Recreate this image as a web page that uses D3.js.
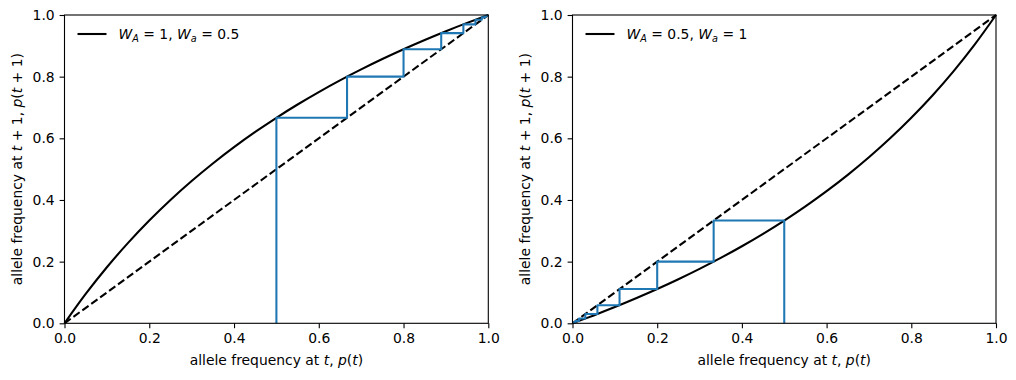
<!DOCTYPE html>
<html><head><meta charset="utf-8">
<script src="https://cdn.jsdelivr.net/npm/d3@7"></script>
<style>
body{margin:0;background:#fff;}
svg{font-family:"DejaVu Sans",sans-serif;}
.tick text{font-size:13.9px;fill:#000;}
</style></head>
<body><svg id="c" width="1016" height="380"></svg>
<script>
// grid of allele frequencies p(t)
const pGrid = [0,0.05,0.1,0.15,0.2,0.25,0.3,0.35,0.4,0.45,0.5,0.55,0.6,0.65,0.7,0.75,0.8,0.85,0.9,0.95,1];
// p(t+1) for W_A = 1, W_a = 0.5
const nextLeft = [0,0.0952,0.1818,0.2609,0.3333,0.4,0.4615,0.5185,0.5714,0.6207,0.6667,0.7097,0.75,0.7879,0.8235,0.8571,0.8889,0.9189,0.9474,0.9744,1];
// p(t+1) for W_A = 0.5, W_a = 1
const nextRight = [0,0.0256,0.0526,0.0811,0.1111,0.1429,0.1765,0.2121,0.25,0.2903,0.3333,0.3793,0.4286,0.4815,0.5385,0.6,0.6667,0.7391,0.8182,0.9048,1];
// successive generations (cobweb)
const cobLeft = [0.5,0.6667,0.8,0.8889,0.9412,0.9697,0.9846,0.9922,0.9961,0.9981,0.999];
const cobRight = [0.5,0.3333,0.2,0.1111,0.0588,0.0303,0.0154,0.0078,0.0039,0.002,0.001];
const ticks = [0,0.2,0.4,0.6,0.8,1.0];
const legendLeft = ["1","0.5"];
const legendRight = ["0.5","1"];

const svg = d3.select("#c");
const panels = [
  {x0:64.5, x1:488.3, next:nextLeft, cob:cobLeft, leg:legendLeft},
  {x0:572.5, x1:996, next:nextRight, cob:cobRight, leg:legendRight}
];
const yTop = 15, yBot = 323.3;
const LW = 2.08;

panels.forEach(P => {
  const x = d3.scaleLinear().domain([0,1]).range([P.x0,P.x1]);
  const y = d3.scaleLinear().domain([0,1]).range([yBot,yTop]);
  const g = svg.append("g");
  const clipId = "clip"+Math.round(P.x0);
  svg.append("clipPath").attr("id",clipId).append("rect")
    .attr("x",P.x0-1.5).attr("y",yTop-1.5).attr("width",P.x1-P.x0+3).attr("height",yBot-yTop+3);
  const plot = g.append("g").attr("clip-path",`url(#${clipId})`);
  const line = d3.line().x(d=>x(d[0])).y(d=>y(d[1]));
  // curve
  plot.append("path").datum(pGrid.map((p,i)=>[p,P.next[i]]))
    .attr("d", d3.line().x(d=>x(d[0])).y(d=>y(d[1])).curve(d3.curveCatmullRom.alpha(0.5)))
    .attr("fill","none").attr("stroke","#000").attr("stroke-width",LW);
  // diagonal
  plot.append("path").datum([[0,0],[1,1]])
    .attr("d", line)
    .attr("fill","none").attr("stroke","#000").attr("stroke-width",LW)
    .attr("stroke-dasharray","7.7,3.33");
  // cobweb
  const pts = [[P.cob[0],0]];
  for(let i=0;i<P.cob.length-1;i++){
    pts.push([P.cob[i],P.cob[i+1]]);
    pts.push([P.cob[i+1],P.cob[i+1]]);
  }
  plot.append("path").datum(pts)
    .attr("d", line)
    .attr("fill","none").attr("stroke","#1f77b4").attr("stroke-width",LW)
    .attr("stroke-linejoin","round");
  // axes
  const fmt = d3.format(".1f");
  const ax = g.append("g").attr("transform",`translate(0,${yBot})`)
    .call(d3.axisBottom(x).tickValues(ticks).tickFormat(fmt).tickSizeOuter(0).tickSize(4.9).tickPadding(4.9));
  const ay = g.append("g").attr("transform",`translate(${P.x0},0)`)
    .call(d3.axisLeft(y).tickValues(ticks).tickFormat(fmt).tickSizeOuter(0).tickSize(4.9).tickPadding(4.9));
  [ax,ay].forEach(a=>{a.select(".domain").remove(); a.selectAll("line").attr("stroke-width",1.1); a.selectAll("text").style("font-family","DejaVu Sans");});
  // frame
  g.append("rect").attr("x",P.x0).attr("y",yTop).attr("width",P.x1-P.x0).attr("height",yBot-yTop)
    .attr("fill","none").attr("stroke","#000").attr("stroke-width",1.1);
  // x label
  const xl = g.append("text").attr("x",(P.x0+P.x1)/2).attr("y",365).attr("text-anchor","middle")
    .attr("font-size","13.9px");
  xl.append("tspan").text("allele frequency at ");
  xl.append("tspan").attr("font-style","italic").text("t");
  xl.append("tspan").text(", ");
  xl.append("tspan").attr("font-style","italic").text("p");
  xl.append("tspan").text("(");
  xl.append("tspan").attr("font-style","italic").text("t");
  xl.append("tspan").text(")");
  // y label
  const yl = g.append("text").attr("transform",`translate(${P.x0-42.5},${(yTop+yBot)/2}) rotate(-90)`)
    .attr("text-anchor","middle").attr("font-size","13.9px");
  yl.append("tspan").text("allele frequency at ");
  yl.append("tspan").attr("font-style","italic").text("t");
  yl.append("tspan").text(" + 1, ");
  yl.append("tspan").attr("font-style","italic").text("p");
  yl.append("tspan").text("(");
  yl.append("tspan").attr("font-style","italic").text("t");
  yl.append("tspan").text(" + 1)");
  // legend
  const lx = P.x0 + 13, ly = 34;
  g.append("line").attr("x1",lx).attr("x2",lx+29).attr("y1",ly).attr("y2",ly)
    .attr("stroke","#000").attr("stroke-width",LW);
  const lt = g.append("text").attr("x",lx+41).attr("y",ly+5).attr("font-size","13.9px");
  lt.append("tspan").attr("font-style","italic").text("W");
  lt.append("tspan").attr("font-style","italic").attr("font-size","9.7px").attr("dy",2.5).text("A");
  lt.append("tspan").attr("dy",-2.5).text(" = "+P.leg[0]+", ");
  lt.append("tspan").attr("font-style","italic").text("W");
  lt.append("tspan").attr("font-style","italic").attr("font-size","9.7px").attr("dy",2.5).text("a");
  lt.append("tspan").attr("dy",-2.5).text(" = "+P.leg[1]);
});
</script></body></html>
